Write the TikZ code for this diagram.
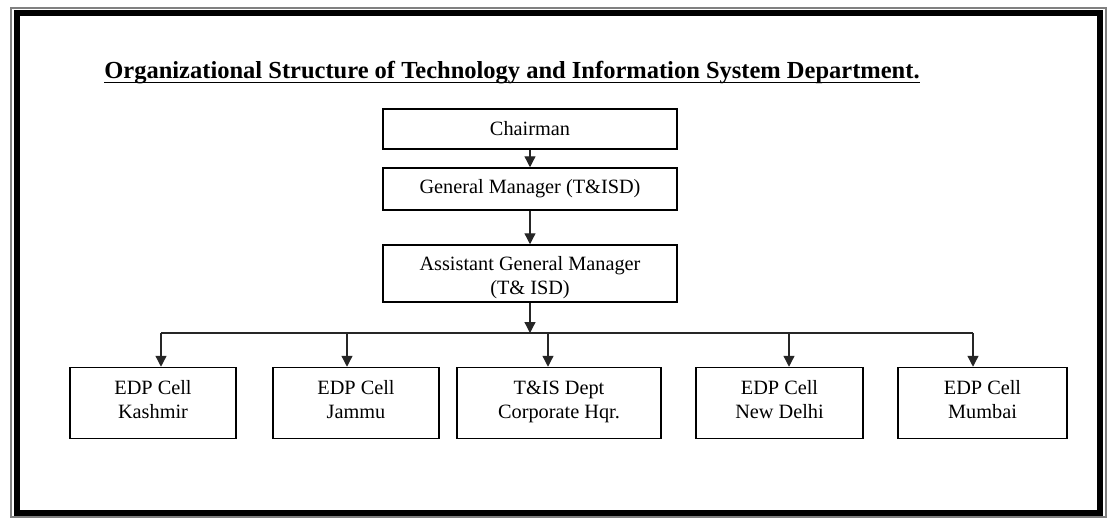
\documentclass[tikz,border=0pt]{standalone}
\usepackage{fontspec}
\setmainfont{Liberation Serif}
\usetikzlibrary{arrows.meta,calc}
\newcommand\boxtext[2][0pt]{\raisebox{#1}[\height][\depth]{\begin{tabular}{@{}c@{}}#2\end{tabular}}}
\begin{document}
\begin{tikzpicture}[x=1pt,y=-1pt,
  box/.style={draw=black, line width=1.5pt, rectangle, align=center, inner sep=0pt,
    font=\fontsize{20.3}{24}\selectfont},
  conn/.style={draw=black!85, line width=1.3pt},
  arr/.style={conn, -{Triangle[width=11pt,length=11pt]}}
]
\useasboundingbox (0,0) rectangle (1112,519);
\fill[white] (0,0) rectangle (1112,519);
% frame
\draw[gray, line width=2pt] (10.5,8) rectangle (1105.5,517);
\draw[black, line width=6pt] (16.5,13) rectangle (1100,513);
% title
\node[inner sep=0pt, anchor=base, font=\fontsize{24.5}{29}\selectfont\bfseries] (title) at (512,79)
  {Organizational Structure of Technology and Information System Department.};
\draw[line width=1.6pt] ([yshift=-3.5pt]title.base west) -- ([yshift=-3.5pt]title.base east);
% boxes
\node[box, minimum width=294pt, minimum height=40pt] (chair) at (530,129) {Chairman};
\node[box, minimum width=294pt, minimum height=42pt] (gm) at (530,189) {General Manager (T\&ISD)};
\node[box, minimum width=294pt, minimum height=57pt] (agm) at (530,273.5) {\boxtext[-4.5pt]{Assistant General Manager\\(T\& ISD)}};
\node[box, minimum width=166pt, minimum height=71pt] (kas) at (153,403) {\boxtext[1pt]{EDP Cell\\Kashmir}};
\node[box, minimum width=166pt, minimum height=71pt] (jam) at (356,403) {\boxtext[1pt]{EDP Cell\\Jammu}};
\node[box, minimum width=204pt, minimum height=71pt] (tis) at (559,403) {\boxtext[1pt]{T\&IS Dept\\Corporate Hqr.}};
\node[box, minimum width=167pt, minimum height=71pt] (ndl) at (779.5,403) {\boxtext[1pt]{EDP Cell\\New Delhi}};
\node[box, minimum width=169pt, minimum height=71pt] (mum) at (982.5,403) {\boxtext[1pt]{EDP Cell\\Mumbai}};
% connectors
\draw[arr] (chair.south) -- (gm.north);
\draw[arr] (gm.south) -- (agm.north);
\coordinate (b1) at (161,333);
\coordinate (b2) at (347,333);
\coordinate (b3) at (548,333);
\coordinate (b4) at (789,333);
\coordinate (b5) at (973,333);
\coordinate (bm) at (530,333);
\draw[arr] (agm.south) -- (bm);
\draw[conn] (b1) -- (b5);
\draw[arr] (b1) -- (b1 |- kas.north);
\draw[arr] (b2) -- (b2 |- jam.north);
\draw[arr] (b3) -- (b3 |- tis.north);
\draw[arr] (b4) -- (b4 |- ndl.north);
\draw[arr] (b5) -- (b5 |- mum.north);
\end{tikzpicture}
\end{document}
